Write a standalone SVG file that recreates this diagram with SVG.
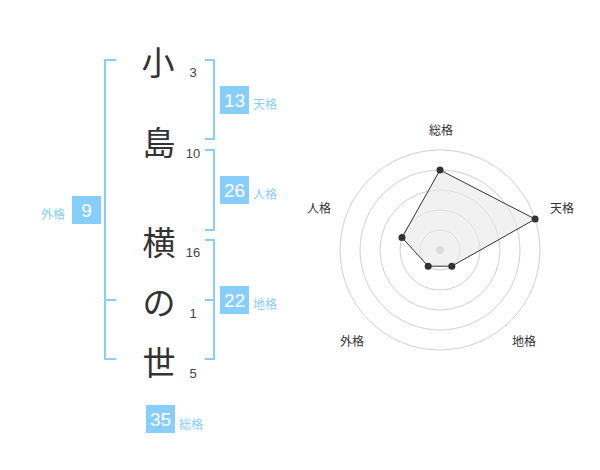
<svg xmlns="http://www.w3.org/2000/svg" width="600" height="470" viewBox="0 0 600 470">
<style>
.ch{font-family:"Noto Sans CJK JP","Noto Sans",sans-serif;font-size:33px;font-weight:400;fill:#333;text-anchor:middle}
.st{font-family:"Liberation Sans",Arial,sans-serif;font-size:13px;fill:#444;text-anchor:middle}
.br{fill:none;stroke:#87cefa;stroke-width:2}
.box{fill:#87cefa}
.bn{font-family:"Liberation Sans",Arial,sans-serif;font-size:19px;fill:#fff;text-anchor:middle}
.bl{font-family:"Noto Sans CJK JP",sans-serif;font-size:12px;fill:#87cefa}
.ring{fill:none;stroke:#d0d0d0;stroke-width:1}
.ax{font-family:"Noto Sans CJK JP",sans-serif;font-size:12px;fill:#333;text-anchor:middle}
.pt{fill:#333}
</style>
<rect width="600" height="470" fill="#fff"/>
<g id="chars">
<text class="ch" x="158" y="75">小</text>
<text class="ch" x="159" y="155">島</text>
<text class="ch" x="159" y="255">横</text>
<text class="ch" x="159" y="315">の</text>
<text class="ch" x="159" y="375">世</text>
</g>
<g id="strokes">
<text class="st" x="193" y="77">3</text>
<text class="st" x="193" y="158">10</text>
<text class="st" x="193" y="257">16</text>
<text class="st" x="193" y="318">1</text>
<text class="st" x="193" y="378">5</text>
</g>
<g id="connectors">
<path class="br" d="M116,60 H105 V359 H116 M105,300 H116"/>
<path class="br" d="M205,60 H214 V139 H205"/>
<path class="br" d="M205,150 H214 V230 H205"/>
<path class="br" d="M205,240 H214 V359 H205 M214,300 H205"/>
</g>
<g id="tenkaku">
<rect class="box" x="220" y="86" width="29" height="28"/>
<text class="bn" x="234.5" y="107">13</text>
<text class="bl" x="253" y="109">天格</text>
</g>
<g id="jinkaku">
<rect class="box" x="220" y="176" width="29" height="28"/>
<text class="bn" x="234.5" y="197">26</text>
<text class="bl" x="253" y="199">人格</text>
</g>
<g id="chikaku">
<rect class="box" x="220" y="286" width="29" height="28"/>
<text class="bn" x="234.5" y="307">22</text>
<text class="bl" x="253" y="309">地格</text>
</g>
<g id="gaikaku">
<rect class="box" x="72" y="196" width="29" height="28"/>
<text class="bn" x="86.5" y="217">9</text>
<text class="bl" x="41" y="219">外格</text>
</g>
<g id="soukaku">
<rect class="box" x="146" y="405" width="29" height="28"/>
<text class="bn" x="160.5" y="426">35</text>
<text class="bl" x="179" y="429">総格</text>
</g>
<g id="radar">
<circle class="ring" cx="440" cy="250" r="20"/>
<circle class="ring" cx="440" cy="250" r="40"/>
<circle class="ring" cx="440" cy="250" r="60"/>
<circle class="ring" cx="440" cy="250" r="80"/>
<circle class="ring" cx="440" cy="250" r="100"/>
<circle cx="440" cy="250" r="4" fill="#ccc"/>
<polygon points="440,170 535.1,219.1 451.8,266.2 428.2,266.2 402,237.6" fill="#e8e8e8" fill-opacity="0.6" stroke="#333" stroke-width="1"/>
<circle class="pt" cx="440" cy="170" r="3.5"/>
<circle class="pt" cx="535.1" cy="219.1" r="3.5"/>
<circle class="pt" cx="451.8" cy="266.2" r="3.5"/>
<circle class="pt" cx="428.2" cy="266.2" r="3.5"/>
<circle class="pt" cx="402" cy="237.6" r="3.5"/>
<text class="ax" x="441" y="135">総格</text>
<text class="ax" x="562" y="213">天格</text>
<text class="ax" x="524" y="346">地格</text>
<text class="ax" x="352" y="346">外格</text>
<text class="ax" x="319" y="213">人格</text>
</g>
</svg>
